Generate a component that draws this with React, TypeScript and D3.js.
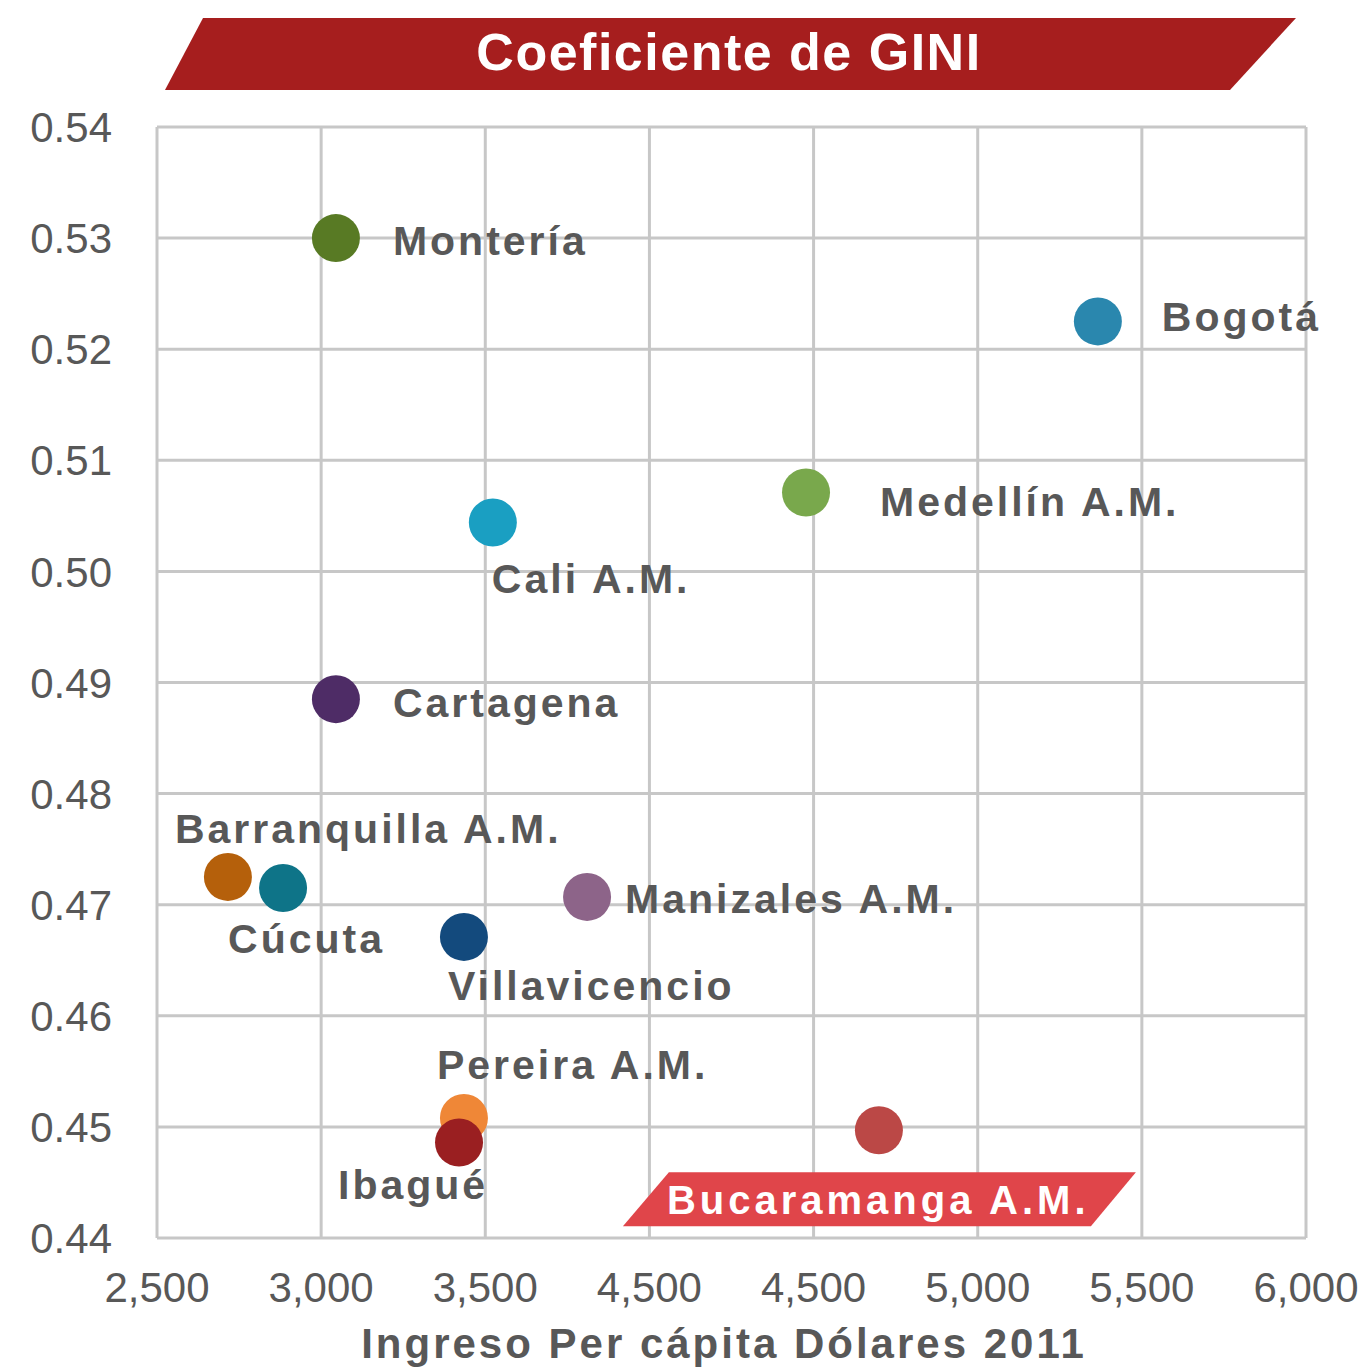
import React from 'react';
import * as d3 from 'd3';

// data
const cities = [
  'Montería', 'Bogotá', 'Medellín A.M.', 'Cali A.M.', 'Cartagena',
  'Barranquilla A.M.', 'Cúcuta', 'Manizales A.M.', 'Villavicencio',
  'Pereira A.M.', 'Ibagué', 'Bucaramanga A.M.',
];
const income = [3045, 5366, 4477, 3523, 3045, 2716, 2884, 3810, 3435, 3435, 3420, 4699];
const gini = [0.53, 0.5225, 0.5071, 0.5044, 0.4885, 0.4725, 0.4715, 0.4707, 0.4671, 0.4508, 0.4486, 0.4497];
const dotColors = [
  '#587a24', '#2a87ae', '#79a84c', '#1a9fc2', '#4e2c66', '#b5600b',
  '#0e7488', '#8d6489', '#134a7d', '#ef8737', '#9a1f21', '#bb4846',
];

const xTicks = [2500, 3000, 3500, 4000, 4500, 5000, 5500, 6000];
const xTickLabels = ['2,500', '3,000', '3,500', '4,500', '4,500', '5,000', '5,500', '6,000'];
const yTicks = [0.44, 0.45, 0.46, 0.47, 0.48, 0.49, 0.5, 0.51, 0.52, 0.53, 0.54];

const title = 'Coeficiente de GINI';
const xTitle = 'Ingreso Per cápita Dólares 2011';
const highlighted = 'Bucaramanga A.M.';

// label placement relative to each dot (px)
const labelOffsets: [number, number][] = [
  [57, 17], [64, 10], [74, 23], [-1, 70], [57, 18], [-53, -34],
  [-55, 65], [38, 16], [-16, 63], [-27, -39], [-121, 57], [-212, 84],
];

const W = 1368;
const H = 1370;

const x = d3.scaleLinear().domain([2500, 6000]).range([157, 1306]);
const y = d3.scaleLinear().domain([0.44, 0.54]).range([1238, 127]);

const grid = '#c7c7c7';
const textGray = '#585858';
const font = '"Liberation Sans", Arial, sans-serif';

export default function App() {
  const [x0, x1] = x.range();
  const [y0, y1] = y.range();
  // draw Pereira before Ibagué so the darker dot sits on top
  const order = d3.range(cities.length);

  return (
    <div style={{ position: 'absolute', left: 0, top: 0, background: '#fff' }}>
      <svg width={W} height={H} style={{ display: 'block', fontFamily: font }}>
        <rect width={W} height={H} fill="#fff" />

        {/* title banner */}
        <polygon points="203,18 1296,18 1230,90 165,90" fill="#a61e1e" />
        <text x={729} y={70} textAnchor="middle" fill="#fff" fontSize={52}
          fontWeight="bold" letterSpacing={1.5}>{title}</text>

        {/* grid */}
        {xTicks.map(t => (
          <line key={'gx' + t} x1={x(t)} x2={x(t)} y1={y1} y2={y0} stroke={grid} strokeWidth={3} />
        ))}
        {yTicks.map(t => (
          <line key={'gy' + t} x1={x0} x2={x1} y1={y(t)} y2={y(t)} stroke={grid} strokeWidth={3} />
        ))}

        {/* y tick labels */}
        {yTicks.map(t => (
          <text key={'ty' + t} x={112} y={y(t)} dy="0.36em" textAnchor="end"
            fontSize={42} fill={textGray}>{d3.format('.2f')(t)}</text>
        ))}

        {/* x tick labels */}
        {xTicks.map((t, i) => (
          <text key={'tx' + t} x={x(t)} y={1302} textAnchor="middle"
            fontSize={42} fill={textGray}>{xTickLabels[i]}</text>
        ))}

        <text x={724} y={1358} textAnchor="middle" fontSize={42} fontWeight="bold"
          fill={textGray} letterSpacing={3}>{xTitle}</text>

        {/* dots */}
        {order.map(i => (
          <circle key={'c' + i} cx={x(income[i])} cy={y(gini[i])} r={24} fill={dotColors[i]} />
        ))}

        {/* labels */}
        {order.map(i => {
          const lx = x(income[i]) + labelOffsets[i][0];
          const ly = y(gini[i]) + labelOffsets[i][1];
          if (cities[i] === highlighted) {
            const top = ly - 42;
            const bot = ly + 12;
            return (
              <g key={'l' + i}>
                <polygon
                  points={`${lx + 2},${top} ${lx + 469},${top} ${lx + 424},${bot} ${lx - 44},${bot}`}
                  fill="#e0454a" />
                <text x={lx} y={ly} fontSize={40} fontWeight="bold" fill="#fff"
                  letterSpacing={4}>{cities[i]}</text>
              </g>
            );
          }
          return (
            <text key={'l' + i} x={lx} y={ly} fontSize={41} fontWeight="bold"
              fill={textGray} letterSpacing={3}>{cities[i]}</text>
          );
        })}
      </svg>
    </div>
  );
}
